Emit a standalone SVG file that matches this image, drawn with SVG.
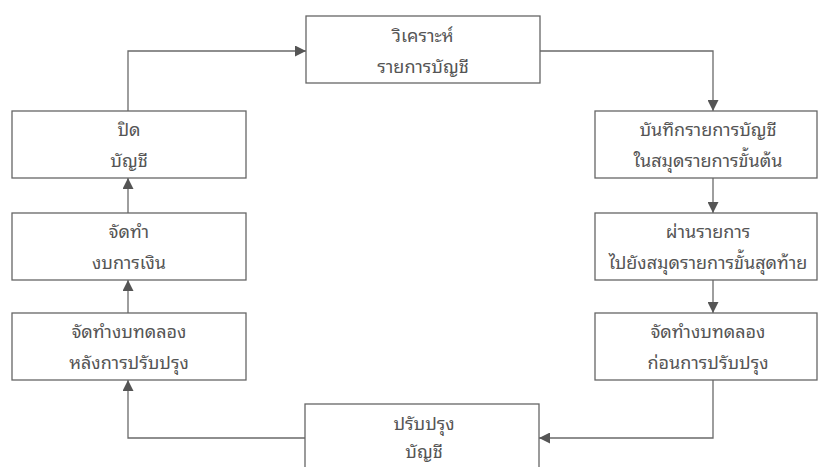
<svg xmlns="http://www.w3.org/2000/svg" width="819" height="467" viewBox="0 0 819 467">
<defs>
<style>
.box{fill:#fff;stroke:#666;stroke-width:1.3}
.t{font-family:"Noto Sans Thai Looped","Noto Serif Thai","Loma","Garuda","Norasi","Noto Sans Thai","Noto Sans",sans-serif;font-size:18px;fill:#555;text-anchor:middle}
.c{fill:none;stroke:#6a6a6a;stroke-width:1.3}
</style>
<marker id="ah" viewBox="0 0 10 10" refX="10" refY="5" markerWidth="11" markerHeight="11" markerUnits="userSpaceOnUse" orient="auto">
<path d="M0,0 L10,5 L0,10 Z" fill="#555"/>
</marker>
</defs>
<rect width="819" height="467" fill="#fff"/>
<g id="connectors">
<path class="c" d="M128,111 V51 H306" marker-end="url(#ah)"/>
<path class="c" d="M540,51 H713 V111" marker-end="url(#ah)"/>
<path class="c" d="M713,178 V213" marker-end="url(#ah)"/>
<path class="c" d="M713,280 V313" marker-end="url(#ah)"/>
<path class="c" d="M713,380 V438 H539" marker-end="url(#ah)"/>
<path class="c" d="M305,438 H128 V380" marker-end="url(#ah)"/>
<path class="c" d="M128,313 V280" marker-end="url(#ah)"/>
<path class="c" d="M128,213 V178" marker-end="url(#ah)"/>
</g>
<g id="n-analyze">
<rect class="box" x="306" y="16" width="234" height="67"/>
<text class="t" x="423" y="42">วิเคราะห์</text>
<text class="t" x="423" y="73">รายการบัญชี</text>
</g>
<g id="n-journal">
<rect class="box" x="595" y="111" width="222" height="67"/>
<text class="t" x="708" y="136">บันทึกรายการบัญชี</text>
<text class="t" x="708" y="167">ในสมุดรายการขั้นต้น</text>
</g>
<g id="n-post">
<rect class="box" x="595" y="213" width="222" height="67"/>
<text class="t" x="708" y="238">ผ่านรายการ</text>
<text class="t" x="708" y="269">ไปยังสมุดรายการขั้นสุดท้าย</text>
</g>
<g id="n-trial-before">
<rect class="box" x="595" y="313" width="222" height="67"/>
<text class="t" x="708" y="338">จัดทำงบทดลอง</text>
<text class="t" x="708" y="369">ก่อนการปรับปรุง</text>
</g>
<g id="n-adjust">
<rect class="box" x="305" y="404" width="234" height="70"/>
<text class="t" x="424" y="430">ปรับปรุง</text>
<text class="t" x="424" y="458">บัญชี</text>
</g>
<g id="n-trial-after">
<rect class="box" x="12" y="313" width="234" height="67"/>
<text class="t" x="129" y="338">จัดทำงบทดลอง</text>
<text class="t" x="129" y="369">หลังการปรับปรุง</text>
</g>
<g id="n-statements">
<rect class="box" x="12" y="213" width="234" height="67"/>
<text class="t" x="129" y="238">จัดทำ</text>
<text class="t" x="129" y="269">งบการเงิน</text>
</g>
<g id="n-close">
<rect class="box" x="12" y="111" width="234" height="67"/>
<text class="t" x="129" y="136">ปิด</text>
<text class="t" x="129" y="167">บัญชี</text>
</g>
</svg>
